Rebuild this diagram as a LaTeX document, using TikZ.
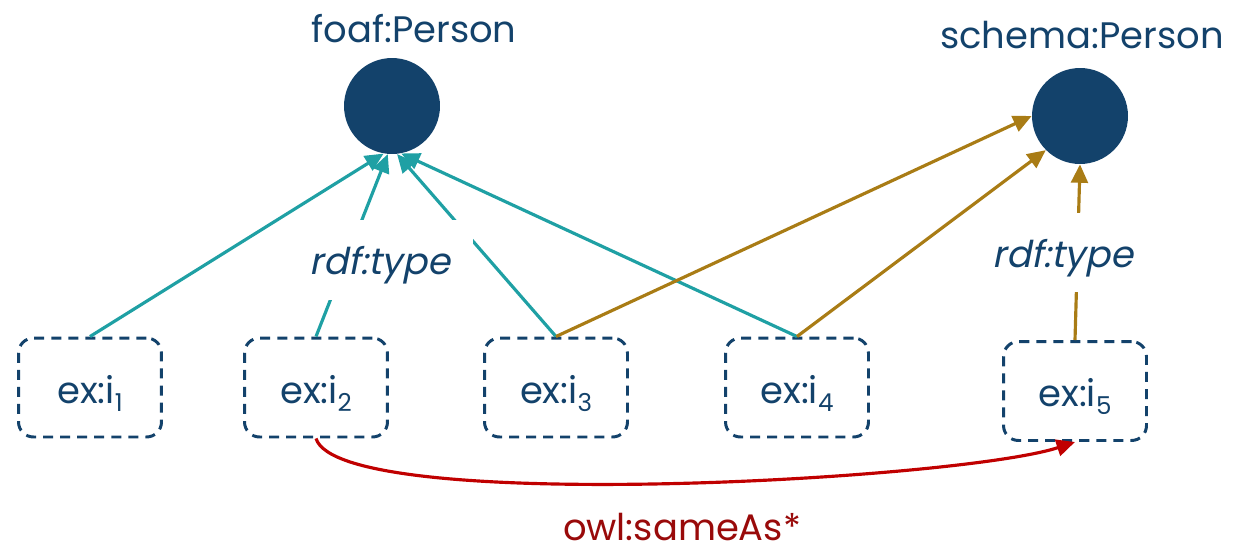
\documentclass[tikz,border=0pt]{standalone}
\usepackage{fontspec}
\setmainfont{Poppins}
\newfontfamily\slfont[FakeSlant=0.2]{Poppins}
\usetikzlibrary{arrows.meta}
\definecolor{navy}{HTML}{13426B}
\definecolor{tealc}{HTML}{1FA0A4}
\definecolor{goldc}{HTML}{A97C15}
\definecolor{redline}{HTML}{C00000}
\definecolor{darkred}{HTML}{990A0A}
\newcommand{\sbs}[1]{\raisebox{-4.5pt}{\fontsize{14}{14}\selectfont #1}}
\begin{document}
\begin{tikzpicture}[x=0.02cm,y=-0.02cm,
  txt/.style={font=\fontsize{21}{25}\selectfont, text=navy, inner sep=0pt},
  cls/.style={circle, fill=navy, minimum size=1.92cm, inner sep=0pt},
  inst/.style={draw=navy, line width=1.7pt, dash pattern=on 5.7pt off 4pt,
    rounded corners=0.3cm, minimum width=2.86cm, minimum height=1.98cm,
    font=\fontsize{21}{25}\selectfont, text=navy, inner sep=0pt,
    text height=20pt, text depth=2pt},
  typelbl/.style={fill=white, font=\fontsize{21}{25}\selectfont\slfont, text=navy,
    inner sep=0pt, minimum width=3.72cm, minimum height=1.6cm,
    text height=19pt, text depth=2pt},
  tarr/.style={draw=tealc, line width=1.8pt, -{Triangle[length=10.5pt,width=9.5pt]}},
  garr/.style={draw=goldc, line width=1.8pt, -{Triangle[length=10.5pt,width=9.5pt]}},
  rarr/.style={draw=redline, line width=1.8pt, -{Triangle[length=10.5pt,width=9.5pt]}}
]
\useasboundingbox (0,0) rectangle (1240,551);

\node[txt, anchor=base] (foafl) at (414,42) {foaf:Person};
\node[txt, anchor=base] (schemal) at (1082,48) {schema:Person};
\node[cls] (foaf) at (392,106) {};
\node[cls] (schema) at (1080,116) {};

\node[inst] (i1) at (90,387.5) {ex:i\sbs{1}};
\node[inst] (i2) at (316,387.5) {ex:i\sbs{2}};
\node[inst] (i3) at (556,387.5) {ex:i\sbs{3}};
\node[inst] (i4) at (797,387.5) {ex:i\sbs{4}};
\node[inst] (i5) at (1075,391) {ex:i\sbs{5}};

\draw[tarr] (i1.north) -- (foaf.260);
\draw[tarr] (i2.north) -- (foaf.265);
\draw[tarr] (i3.north) -- (foaf.276);
\draw[tarr] (i4.north) -- (foaf.281);

\draw[garr] (i3.north) -- (schema.180);
\draw[garr] (i4.north) -- (schema.225);
\draw[garr] (i5.north) -- (schema.270);

\node[typelbl] (t1) at (380,260) {rdf:type};
\node[typelbl] (t2) at (1063,252.5) {rdf:type};

\draw[rarr] (i2.south) .. controls (340,515) and (960,480) .. (i5.south);
\node[txt, anchor=base, text=darkred] (same) at (682,540) {owl:sameAs*};
\end{tikzpicture}
\end{document}
